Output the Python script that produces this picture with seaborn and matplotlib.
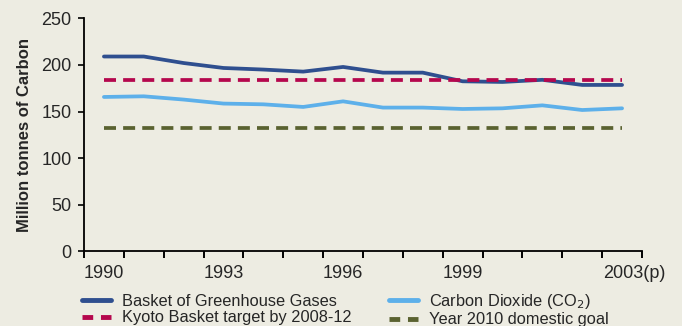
import matplotlib
matplotlib.use("Agg")
import matplotlib.pyplot as plt
import matplotlib.transforms as mtransforms
from matplotlib.lines import Line2D
import seaborn as sns
import pandas as pd
import numpy as np

years = list(range(1990, 2004))
basket = [209, 209, 202, 196.7, 195, 192.8, 197.8, 191.7, 191.7, 182.4, 181.7, 184, 178.5, 178.5]
co2 = [165.6, 166.3, 162.8, 158.5, 157.7, 154.9, 160.9, 154.2, 154.2, 152.7, 153.4, 156.6, 151.6, 153.4]
kyoto_target = 183.8
domestic_goal = 132.7
label_years = [1990, 1993, 1996, 1999, 2003]
label_texts = ["1990", "1993", "1996", "1999", "2003(p)"]
yticks = [0, 50, 100, 150, 200, 250]

bg = "#EDECE2"
sns.set_theme(style="ticks")
plt.rcParams['font.family'] = ['Liberation Sans', 'DejaVu Sans']

fig = plt.figure(figsize=(6.82, 3.26), dpi=100, facecolor=bg)
ax = fig.add_axes([84/682, 1-251.3/326, (642-84)/682, (251.3-18.3)/326])
ax.set_facecolor(bg)

names = ["Basket of Greenhouse Gases", "Carbon Dioxide (CO$_2$)",
         "Kyoto Basket target by 2008-12", "Year 2010 domestic goal"]
df = pd.DataFrame({
    "year": years * 4,
    "value": basket + co2 + [kyoto_target]*len(years) + [domestic_goal]*len(years),
    "series": sum([[n]*len(years) for n in names], []),
})
palette = dict(zip(names, ["#2F4F8F", "#5DB0EA", "#B5074D", "#5A6230"]))
dashes = dict(zip(names, ["", "", (3.2, 1.9), (3.2, 1.9)]))
sns.lineplot(data=df, x="year", y="value", hue="series", style="series",
             palette=palette, dashes=dashes, linewidth=2.7, ax=ax, legend=False)

ax.set_xlim(1989.5, 2003.5)
ax.set_ylim(0, 250)
ax.set_yticks(yticks)
ax.set_yticklabels([str(t) for t in yticks], fontsize=13)
edges = np.arange(1989.5, 2004.0, 1.0)
ax.set_xticks(edges)
ax.set_xticklabels([])
ax.set_xticks(label_years, minor=True)
ax.set_xticklabels(label_texts, minor=True, fontsize=13)
ax.tick_params(axis="x", which="major", length=5, width=1.4, color="black")
ax.tick_params(axis="x", which="minor", length=0, pad=10)
ax.tick_params(axis="y", length=4, width=1.2, color="black", pad=5)
for lab in ax.get_xticklabels(minor=True):
    if lab.get_text().endswith("(p)"):
        lab.set_transform(lab.get_transform() + mtransforms.ScaledTranslation(12/100, 0, fig.dpi_scale_trans))
for s in ["top", "right"]:
    ax.spines[s].set_visible(False)
for s in ["left", "bottom"]:
    ax.spines[s].set_color("black")
    ax.spines[s].set_linewidth(1.3)
ax.set_xlabel("")
ax.set_ylabel("Million tonnes of Carbon", fontsize=12, fontweight="bold")
ax.yaxis.set_label_coords(-52/558, 0.50)

handles = [
    Line2D([], [], color=palette[names[0]], lw=3.5),
    Line2D([], [], color=palette[names[2]], lw=3.5, dashes=(2.2, 1.6)),
    Line2D([], [], color=palette[names[1]], lw=3.5),
    Line2D([], [], color=palette[names[3]], lw=3.5, dashes=(2.2, 1.6)),
]
labels = [names[0], names[2], names[1], names[3]]
fig.legend(handles, labels, ncol=2, loc="upper left", bbox_to_anchor=(81.7/682, 1-292/326),
           frameon=False, fontsize=11.8, handlelength=1.77, handletextpad=0.67,
           columnspacing=2.32, labelspacing=0.08, borderaxespad=0, borderpad=0)

fig.savefig("out.png", dpi=100, facecolor=bg)
